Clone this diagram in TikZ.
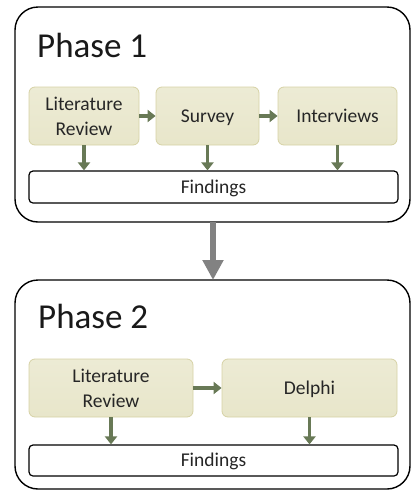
\documentclass[tikz,border=0pt]{standalone}
\usepackage{fontspec}
\setmainfont{Carlito}
\usepackage{tikz}
\usetikzlibrary{calc,arrows.meta}

\definecolor{stepfill}{RGB}{232,230,202}
\definecolor{stepline}{RGB}{214,210,165}
\definecolor{flowgreen}{RGB}{104,121,86}
\definecolor{phasegray}{RGB}{130,130,130}

\tikzset{
	phasebox/.style={draw=black,line width=1.4pt,rounded corners=23pt},
	stepbox/.style={draw=stepline,line width=0.8pt,rounded corners=6pt,top color=stepfill!80!white,bottom color=stepfill,
		align=center,inner sep=0pt,text=black!85,font=\fontsize{19.5}{25}\selectfont},
	oneline/.style={text height=12.5pt,text depth=0pt},
	findbox/.style={draw=black,line width=1.2pt,rounded corners=4pt,fill=white,inner sep=0pt,text=black!85,
		oneline,font=\fontsize{19.5}{24}\selectfont},
	title/.style={anchor=base west,inner sep=0pt,text=black!90,font=\fontsize{35}{40}\selectfont},
	flow/.style={draw=flowgreen,line width=3.5pt,-{Triangle[length=8pt,width=12pt]}},
	link/.style={draw=phasegray,line width=6pt,-{Triangle[length=20pt,width=20pt]}}
}

\begin{document}
\begin{tikzpicture}[x=1pt,y=-1pt]
				\useasboundingbox (0,0) rectangle (411,491);
				%phase 1
				\draw[phasebox] (15,7) rectangle (410,222);
				\node[title] (p1) at (37,57) {Phase 1};
				\node[stepbox,minimum width=110pt,minimum height=58pt] (lit1) at (84,116) {Literature\\Review};
				\node[stepbox,oneline,minimum width=103pt,minimum height=58pt] (survey) at (207.5,116) {Survey};
				\node[stepbox,oneline,minimum width=119pt,minimum height=58pt] (interviews) at (337.5,116) {Interviews};
				\node[findbox,minimum width=369pt,minimum height=32pt] (find1) at (213.5,187) {Findings};
				\draw[flow] (lit1) -- (survey);
				\draw[flow] (survey) -- (interviews);
				\draw[flow] (lit1.south) -- (lit1.south |- find1.north);
				\draw[flow] (survey.south) -- (survey.south |- find1.north);
				\draw[flow] (interviews.south) -- (interviews.south |- find1.north);
				
				%phase 2
				\draw[phasebox] (15,280) rectangle (410,489);
				\coordinate (top1) at (213,222);
				\coordinate (top2) at (213,280);
				\draw[link] (top1) -- (top2);
				\node[title] (p2) at (38,328) {Phase 2};
				\node[stepbox,minimum width=164pt,minimum height=58pt] (lit2) at (111,388) {Literature\\Review};
				\node[stepbox,oneline,minimum width=175pt,minimum height=58pt] (delphi) at (309.5,388) {Delphi};
				\node[findbox,minimum width=369pt,minimum height=31pt] (find2) at (213.5,460.5) {Findings};
				\draw[flow] (lit2) -- (delphi);
				\draw[flow] (lit2.south) -- (lit2.south |- find2.north);
				\draw[flow] (delphi.south) -- (delphi.south |- find2.north);
				
\end{tikzpicture}
\end{document}
